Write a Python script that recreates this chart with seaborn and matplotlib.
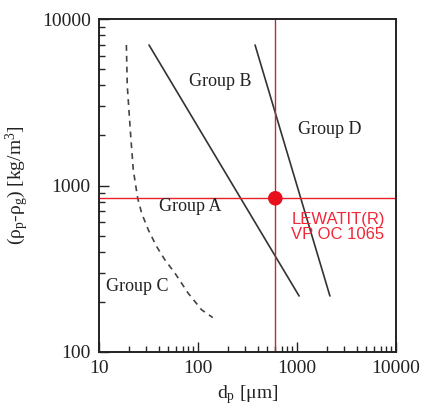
import numpy as np
import pandas as pd
import matplotlib
matplotlib.use("Agg")
import matplotlib.pyplot as plt
import seaborn as sns

# boundary C/A (dashed)
c_dp = [18.9, 19.3, 20.9, 22.2, 24.6, 27.0, 31.5, 38.3, 46.4, 58.6, 79.8, 109, 141]
c_rho = [6980, 3970, 1990, 1240, 838, 681, 541, 429, 357, 297, 225, 179, 161]

# boundary A/B
ab_dp = [32, 1050]
ab_rho = [6980, 217]

# boundary B/D
bd_dp = [377, 2150]
bd_rho = [6980, 217]

# LEWATIT point
lew_dp = 604
lew_rho = 838

group_names = ["Group A", "Group B", "Group C", "Group D"]
group_dp = [83, 167, 24.4, 2120]
group_rho = [747, 4190, 247, 2180]

sns.set_style("ticks")
plt.rcParams['font.family'] = ['Liberation Serif', 'DejaVu Serif']
plt.rcParams['mathtext.fontset'] = 'custom'
plt.rcParams['mathtext.rm'] = 'Liberation Serif'
plt.rcParams['mathtext.it'] = 'Liberation Serif:italic'

fig = plt.figure(figsize=(4.21, 4.13), dpi=100)
ax = fig.add_axes([99/421, 1-352/413, 297/421, 333/413])

lines = pd.concat([
    pd.DataFrame({'dp': c_dp, 'rho': c_rho, 'b': 'CA'}),
    pd.DataFrame({'dp': ab_dp, 'rho': ab_rho, 'b': 'AB'}),
    pd.DataFrame({'dp': bd_dp, 'rho': bd_rho, 'b': 'BD'}),
])

sns.lineplot(data=lines[lines.b == 'CA'], x='dp', y='rho', sort=False, ax=ax,
             color='#444444', lw=1.2, linestyle=(0, (3.5, 3)))
for b in ['AB', 'BD']:
    sns.lineplot(data=lines[lines.b == b], x='dp', y='rho', sort=False, ax=ax,
                 color='#333333', lw=1.2)

ax.axhline(lew_rho, color='#e8202a', lw=1)
ax.axvline(lew_dp, color='#b0303a', lw=1)
sns.scatterplot(x=[lew_dp], y=[lew_rho], ax=ax, color='#e8101c', s=110,
                edgecolor='none', zorder=5)

ax.set_xscale('log')
ax.set_yscale('log')
ax.set_xlim(10, 10000)
ax.set_ylim(100, 10000)
ax.set_xticks([10, 100, 1000, 10000])
ax.set_xticklabels(['10', '100', '1000', '10000'])
ax.set_yticks([100, 1000, 10000])
ax.set_yticklabels(['100', '1000', '10000'])

for name, x, y in zip(group_names, group_dp, group_rho):
    ax.text(x, y, name, ha='center', va='center', fontsize=13, color='#222222')

ax.text(lew_dp * 1.45, lew_rho * 0.67, "LEWATIT(R)\nVP OC 1065", ha='left', va='center',
        fontsize=12, color='#f02838', family=['Liberation Sans', 'DejaVu Sans'],
        linespacing=1.0)

ax.tick_params(which='major', direction='in', length=7, width=1, labelsize=14,
               pad=6, colors='#222222', top=False, right=False)
ax.tick_params(which='minor', direction='in', length=4, width=1, top=False, right=False)
for s in ax.spines.values():
    s.set_visible(True)
    s.set_linewidth(1.4)
    s.set_color('#222222')

ax.set_xlabel("d$_\\mathrm{p}$ [μm]", fontsize=14, color='#222222', labelpad=4)
ax.set_ylabel("(ρ$_\\mathrm{p}$-ρ$_\\mathrm{g}$) [kg/m$^\\mathrm{3}$]", fontsize=14,
              color='#222222', labelpad=8)

fig.savefig("out.png", dpi=100)
